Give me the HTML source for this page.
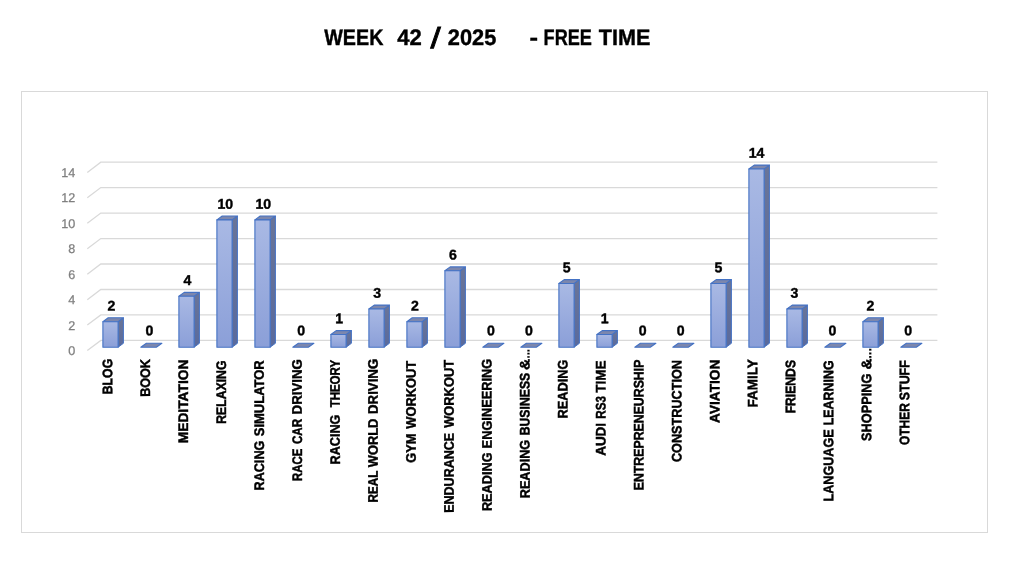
<!DOCTYPE html>
<html lang="en">
<head>
<meta charset="utf-8">
<title>WEEK 42 / 2025 - FREE TIME</title>
<style>
html,body{margin:0;padding:0;background:#fff;}
body{width:1022px;height:566px;overflow:hidden;font-family:"Liberation Sans",sans-serif;}
svg{display:block;text-rendering:geometricPrecision;}
text{font-family:"Liberation Sans",sans-serif;}
.t{font-weight:700;font-size:22.4px;fill:#000;stroke:#000;stroke-width:0.4;}
.ax{font-size:12.6px;fill:#7f7f7f;stroke:#7f7f7f;stroke-width:0.25;text-anchor:end;}
.v{font-weight:700;font-size:14.1px;fill:#000;stroke:#000;stroke-width:0.4;text-anchor:middle;}
.c{font-weight:700;font-size:13.85px;fill:#000;stroke:#000;stroke-width:0.45;}
.g{stroke:#d9d9d9;stroke-width:1.3;fill:none;}
.b{stroke:#4472c4;stroke-width:1.1;stroke-linejoin:round;}
</style>
</head>
<body>
<svg width="1022" height="566" viewBox="0 0 1022 566">
<defs>
<linearGradient id="gf" x1="0" y1="0" x2="0" y2="1"><stop offset="0" stop-color="#a9b9e4"/><stop offset="1" stop-color="#8b9fd8"/></linearGradient>
<linearGradient id="gs" x1="0" y1="0" x2="0" y2="1"><stop offset="0" stop-color="#6a7598"/><stop offset="1" stop-color="#5a6a9c"/></linearGradient>
</defs>
<rect x="0" y="0" width="1022" height="566" fill="#ffffff"/>
<text class="t"><tspan x="324.28" y="45.0" textLength="59.10" lengthAdjust="spacingAndGlyphs">WEEK</tspan> <tspan x="397.37" y="45.0" textLength="24.52" lengthAdjust="spacingAndGlyphs">42</tspan> <tspan x="430.44" y="48.2" font-size="29.0" font-weight="400" stroke-width="0.8" textLength="10.22" lengthAdjust="spacingAndGlyphs">/</tspan> <tspan x="447.84" y="45.0" textLength="48.46" lengthAdjust="spacingAndGlyphs">2025</tspan> <tspan x="529.50" y="45.0" textLength="8.52" lengthAdjust="spacingAndGlyphs">-</tspan> <tspan x="543.59" y="45.0" textLength="48.32" lengthAdjust="spacingAndGlyphs">FREE</tspan> <tspan x="598.76" y="45.0" textLength="51.59" lengthAdjust="spacingAndGlyphs">TIME</tspan></text>
<rect x="21.5" y="91.5" width="966" height="441" fill="#fff" stroke="#d9d9d9" stroke-width="1"/>
<g class="g">
<path d="M87.3 350.6 L100.8 340.4 L937.4 340.4"/>
<path d="M87.3 325.1 L100.8 314.9 L937.4 314.9"/>
<path d="M87.3 299.7 L100.8 289.5 L937.4 289.5"/>
<path d="M87.3 274.2 L100.8 264.0 L937.4 264.0"/>
<path d="M87.3 248.8 L100.8 238.6 L937.4 238.6"/>
<path d="M87.3 223.3 L100.8 213.1 L937.4 213.1"/>
<path d="M87.3 197.8 L100.8 187.6 L937.4 187.6"/>
<path d="M87.3 172.4 L100.8 162.2 L937.4 162.2"/>
</g>
<g class="ax">
<text x="75.2" y="355.2">0</text>
<text x="75.2" y="329.7">2</text>
<text x="75.2" y="304.3">4</text>
<text x="75.2" y="278.8">6</text>
<text x="75.2" y="253.4">8</text>
<text x="75.2" y="227.9">10</text>
<text x="75.2" y="202.4">12</text>
<text x="75.2" y="177.0">14</text>
</g>
<g class="b">
<path fill="url(#gs)" stroke-width="1" d="M118.1 321.7 L123.4 317.8 L123.4 343.3 L118.1 347.2 Z"/><path fill="#7c87ad" d="M102.9 321.7 L118.1 321.7 L123.4 317.8 L108.2 317.8 Z"/><rect fill="url(#gf)" x="102.9" y="321.7" width="15.2" height="25.5"/>
<path fill="#7c87ad" d="M140.8 347.2 L156.3 347.2 L161.9 343.3 L146.4 343.3 Z"/>
<path fill="url(#gs)" stroke-width="1" d="M194.1 296.3 L199.4 292.4 L199.4 343.3 L194.1 347.2 Z"/><path fill="#7c87ad" d="M178.9 296.3 L194.1 296.3 L199.4 292.4 L184.2 292.4 Z"/><rect fill="url(#gf)" x="178.9" y="296.3" width="15.2" height="50.9"/>
<path fill="url(#gs)" stroke-width="1" d="M232.1 219.9 L237.4 216.0 L237.4 343.3 L232.1 347.2 Z"/><path fill="#7c87ad" d="M216.9 219.9 L232.1 219.9 L237.4 216.0 L222.2 216.0 Z"/><rect fill="url(#gf)" x="216.9" y="219.9" width="15.2" height="127.3"/>
<path fill="url(#gs)" stroke-width="1" d="M270.1 219.9 L275.4 216.0 L275.4 343.3 L270.1 347.2 Z"/><path fill="#7c87ad" d="M254.9 219.9 L270.1 219.9 L275.4 216.0 L260.2 216.0 Z"/><rect fill="url(#gf)" x="254.9" y="219.9" width="15.2" height="127.3"/>
<path fill="#7c87ad" d="M292.8 347.2 L308.3 347.2 L313.9 343.3 L298.4 343.3 Z"/>
<path fill="url(#gs)" stroke-width="1" d="M346.1 334.5 L351.4 330.6 L351.4 343.3 L346.1 347.2 Z"/><path fill="#7c87ad" d="M330.9 334.5 L346.1 334.5 L351.4 330.6 L336.2 330.6 Z"/><rect fill="url(#gf)" x="330.9" y="334.5" width="15.2" height="12.7"/>
<path fill="url(#gs)" stroke-width="1" d="M384.1 309.0 L389.4 305.1 L389.4 343.3 L384.1 347.2 Z"/><path fill="#7c87ad" d="M368.9 309.0 L384.1 309.0 L389.4 305.1 L374.2 305.1 Z"/><rect fill="url(#gf)" x="368.9" y="309.0" width="15.2" height="38.2"/>
<path fill="url(#gs)" stroke-width="1" d="M422.1 321.7 L427.4 317.8 L427.4 343.3 L422.1 347.2 Z"/><path fill="#7c87ad" d="M406.9 321.7 L422.1 321.7 L427.4 317.8 L412.2 317.8 Z"/><rect fill="url(#gf)" x="406.9" y="321.7" width="15.2" height="25.5"/>
<path fill="url(#gs)" stroke-width="1" d="M460.1 270.8 L465.4 266.9 L465.4 343.3 L460.1 347.2 Z"/><path fill="#7c87ad" d="M444.9 270.8 L460.1 270.8 L465.4 266.9 L450.2 266.9 Z"/><rect fill="url(#gf)" x="444.9" y="270.8" width="15.2" height="76.4"/>
<path fill="#7c87ad" d="M482.8 347.2 L498.3 347.2 L503.9 343.3 L488.4 343.3 Z"/>
<path fill="#7c87ad" d="M520.8 347.2 L536.3 347.2 L541.9 343.3 L526.4 343.3 Z"/>
<path fill="url(#gs)" stroke-width="1" d="M574.1 283.5 L579.4 279.6 L579.4 343.3 L574.1 347.2 Z"/><path fill="#7c87ad" d="M558.9 283.5 L574.1 283.5 L579.4 279.6 L564.2 279.6 Z"/><rect fill="url(#gf)" x="558.9" y="283.5" width="15.2" height="63.7"/>
<path fill="url(#gs)" stroke-width="1" d="M612.1 334.5 L617.4 330.6 L617.4 343.3 L612.1 347.2 Z"/><path fill="#7c87ad" d="M596.9 334.5 L612.1 334.5 L617.4 330.6 L602.2 330.6 Z"/><rect fill="url(#gf)" x="596.9" y="334.5" width="15.2" height="12.7"/>
<path fill="#7c87ad" d="M634.8 347.2 L650.3 347.2 L655.9 343.3 L640.4 343.3 Z"/>
<path fill="#7c87ad" d="M672.8 347.2 L688.3 347.2 L693.9 343.3 L678.4 343.3 Z"/>
<path fill="url(#gs)" stroke-width="1" d="M726.1 283.5 L731.4 279.6 L731.4 343.3 L726.1 347.2 Z"/><path fill="#7c87ad" d="M710.9 283.5 L726.1 283.5 L731.4 279.6 L716.2 279.6 Z"/><rect fill="url(#gf)" x="710.9" y="283.5" width="15.2" height="63.7"/>
<path fill="url(#gs)" stroke-width="1" d="M764.1 169.0 L769.4 165.1 L769.4 343.3 L764.1 347.2 Z"/><path fill="#7c87ad" d="M748.9 169.0 L764.1 169.0 L769.4 165.1 L754.2 165.1 Z"/><rect fill="url(#gf)" x="748.9" y="169.0" width="15.2" height="178.2"/>
<path fill="url(#gs)" stroke-width="1" d="M802.1 309.0 L807.4 305.1 L807.4 343.3 L802.1 347.2 Z"/><path fill="#7c87ad" d="M786.9 309.0 L802.1 309.0 L807.4 305.1 L792.2 305.1 Z"/><rect fill="url(#gf)" x="786.9" y="309.0" width="15.2" height="38.2"/>
<path fill="#7c87ad" d="M824.8 347.2 L840.3 347.2 L845.9 343.3 L830.4 343.3 Z"/>
<path fill="url(#gs)" stroke-width="1" d="M878.1 321.7 L883.4 317.8 L883.4 343.3 L878.1 347.2 Z"/><path fill="#7c87ad" d="M862.9 321.7 L878.1 321.7 L883.4 317.8 L868.2 317.8 Z"/><rect fill="url(#gf)" x="862.9" y="321.7" width="15.2" height="25.5"/>
<path fill="#7c87ad" d="M900.8 347.2 L916.3 347.2 L921.9 343.3 L906.4 343.3 Z"/>
</g>
<g class="v">
<text transform="translate(111.50 310.54) rotate(0.05)">2</text>
<text transform="translate(149.44 335.30) rotate(0.05)">0</text>
<text transform="translate(187.38 285.08) rotate(0.05)">4</text>
<text transform="translate(225.32 208.70) rotate(0.05)">10</text>
<text transform="translate(263.26 208.70) rotate(0.05)">10</text>
<text transform="translate(301.20 335.30) rotate(0.05)">0</text>
<text transform="translate(339.14 323.27) rotate(0.05)">1</text>
<text transform="translate(377.08 297.81) rotate(0.05)">3</text>
<text transform="translate(415.02 310.54) rotate(0.05)">2</text>
<text transform="translate(452.96 259.62) rotate(0.05)">6</text>
<text transform="translate(490.90 335.30) rotate(0.05)">0</text>
<text transform="translate(528.84 335.30) rotate(0.05)">0</text>
<text transform="translate(566.78 272.35) rotate(0.05)">5</text>
<text transform="translate(604.72 323.27) rotate(0.05)">1</text>
<text transform="translate(642.66 335.30) rotate(0.05)">0</text>
<text transform="translate(680.60 335.30) rotate(0.05)">0</text>
<text transform="translate(718.54 272.35) rotate(0.05)">5</text>
<text transform="translate(756.48 157.78) rotate(0.05)">14</text>
<text transform="translate(794.42 297.81) rotate(0.05)">3</text>
<text transform="translate(832.36 335.30) rotate(0.05)">0</text>
<text transform="translate(870.30 310.54) rotate(0.05)">2</text>
<text transform="translate(908.24 335.30) rotate(0.05)">0</text>
</g>
<g class="c">
<text transform="translate(112.15 393.80) rotate(-90.05)"><tspan x="-0.45" textLength="35.43" lengthAdjust="spacingAndGlyphs">BLOG</tspan></text>
<text transform="translate(150.11 396.30) rotate(-90.05)"><tspan x="-0.47" textLength="37.71" lengthAdjust="spacingAndGlyphs">BOOK</tspan></text>
<text transform="translate(188.06 442.70) rotate(-90.05)"><tspan x="-0.55" textLength="83.60" lengthAdjust="spacingAndGlyphs">MEDITATION</tspan></text>
<text transform="translate(226.01 423.30) rotate(-90.05)"><tspan x="-0.44" textLength="63.12" lengthAdjust="spacingAndGlyphs">RELAXING</tspan></text>
<text transform="translate(263.97 490.00) rotate(-90.05)"><tspan x="-0.47" textLength="49.78" lengthAdjust="spacingAndGlyphs">RACING</tspan> <tspan x="53.80" textLength="75.89" lengthAdjust="spacingAndGlyphs">SIMULATOR</tspan></text>
<text transform="translate(301.92 480.60) rotate(-90.05)"><tspan x="-0.39" textLength="32.36" lengthAdjust="spacingAndGlyphs">RACE</tspan> <tspan x="36.50" textLength="25.16" lengthAdjust="spacingAndGlyphs">CAR</tspan> <tspan x="66.19" textLength="55.16" lengthAdjust="spacingAndGlyphs">DRIVING</tspan></text>
<text transform="translate(339.88 464.00) rotate(-90.05)"><tspan x="-0.47" textLength="49.88" lengthAdjust="spacingAndGlyphs">RACING</tspan> <tspan x="56.65" textLength="47.46" lengthAdjust="spacingAndGlyphs">THEORY</tspan></text>
<text transform="translate(377.84 502.10) rotate(-90.05)"><tspan x="-0.40" textLength="31.69" lengthAdjust="spacingAndGlyphs">REAL</tspan> <tspan x="34.86" textLength="48.60" lengthAdjust="spacingAndGlyphs">WORLD</tspan> <tspan x="88.09" textLength="55.26" lengthAdjust="spacingAndGlyphs">DRIVING</tspan></text>
<text transform="translate(415.79 462.60) rotate(-90.05)"><tspan x="-0.15" textLength="29.18" lengthAdjust="spacingAndGlyphs">GYM</tspan> <tspan x="33.86" textLength="67.90" lengthAdjust="spacingAndGlyphs">WORKOUT</tspan></text>
<text transform="translate(453.75 512.40) rotate(-90.05)"><tspan x="-0.46" textLength="80.08" lengthAdjust="spacingAndGlyphs">ENDURANCE</tspan> <tspan x="84.56" textLength="67.90" lengthAdjust="spacingAndGlyphs">WORKOUT</tspan></text>
<text transform="translate(491.70 510.60) rotate(-90.05)"><tspan x="-0.47" textLength="58.59" lengthAdjust="spacingAndGlyphs">READING</tspan> <tspan x="62.22" textLength="89.60" lengthAdjust="spacingAndGlyphs">ENGINEERING</tspan></text>
<text transform="translate(529.65 497.80) rotate(-90.05)"><tspan x="-0.47" textLength="58.48" lengthAdjust="spacingAndGlyphs">READING</tspan> <tspan x="62.46" textLength="62.55" lengthAdjust="spacingAndGlyphs">BUSINESS</tspan> <tspan x="127.79" textLength="11.22" lengthAdjust="spacingAndGlyphs">&amp;</tspan><tspan x="139.38" stroke-width="0.2" textLength="9.45" lengthAdjust="spacingAndGlyphs">...</tspan></text>
<text transform="translate(567.61 418.00) rotate(-90.05)"><tspan x="-0.48" textLength="58.79" lengthAdjust="spacingAndGlyphs">READING</tspan></text>
<text transform="translate(605.56 455.90) rotate(-90.05)"><tspan x="0.04" textLength="32.99" lengthAdjust="spacingAndGlyphs">AUDI</tspan> <tspan x="37.09" textLength="22.76" lengthAdjust="spacingAndGlyphs">RS3</tspan> <tspan x="63.22" textLength="32.23" lengthAdjust="spacingAndGlyphs">TIME</tspan></text>
<text transform="translate(643.52 489.80) rotate(-90.05)"><tspan x="-0.45" textLength="130.59" lengthAdjust="spacingAndGlyphs">ENTREPRENEURSHIP</tspan></text>
<text transform="translate(681.47 461.90) rotate(-90.05)"><tspan x="-0.14" textLength="101.92" lengthAdjust="spacingAndGlyphs">CONSTRUCTION</tspan></text>
<text transform="translate(719.43 423.00) rotate(-90.05)"><tspan x="0.03" textLength="63.31" lengthAdjust="spacingAndGlyphs">AVIATION</tspan></text>
<text transform="translate(757.38 406.90) rotate(-90.05)"><tspan x="-0.52" textLength="48.07" lengthAdjust="spacingAndGlyphs">FAMILY</tspan></text>
<text transform="translate(795.34 412.90) rotate(-90.05)"><tspan x="-0.44" textLength="53.34" lengthAdjust="spacingAndGlyphs">FRIENDS</tspan></text>
<text transform="translate(833.29 501.10) rotate(-90.05)"><tspan x="-0.47" textLength="72.29" lengthAdjust="spacingAndGlyphs">LANGUAGE</tspan> <tspan x="75.74" textLength="64.95" lengthAdjust="spacingAndGlyphs">LEARNING</tspan></text>
<text transform="translate(871.25 441.00) rotate(-90.05)"><tspan x="0.01" textLength="67.41" lengthAdjust="spacingAndGlyphs">SHOPPING</tspan> <tspan x="71.61" textLength="10.88" lengthAdjust="spacingAndGlyphs">&amp;</tspan><tspan x="82.15" stroke-width="0.2" textLength="11.00" lengthAdjust="spacingAndGlyphs">...</tspan></text>
<text transform="translate(909.20 445.00) rotate(-90.05)"><tspan x="-0.12" textLength="41.99" lengthAdjust="spacingAndGlyphs">OTHER</tspan> <tspan x="44.82" textLength="39.96" lengthAdjust="spacingAndGlyphs">STUFF</tspan></text>
</g>
</svg>
</body>
</html>
